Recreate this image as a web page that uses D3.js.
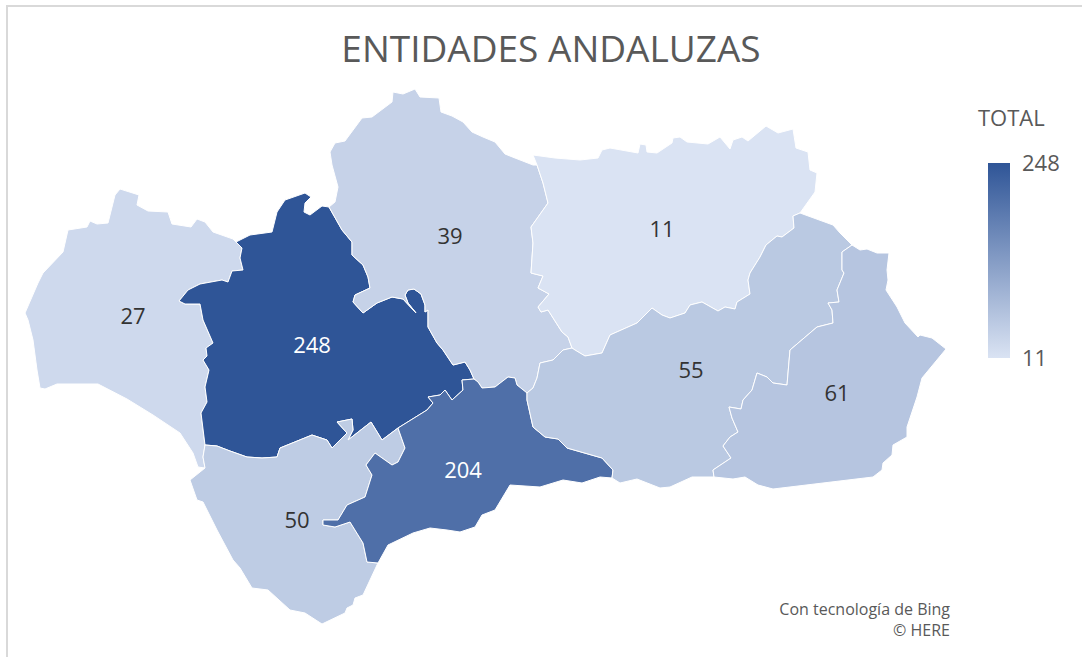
<!DOCTYPE html>
<html>
<head>
<meta charset="utf-8">
<title>Entidades andaluzas</title>
<script src="https://cdn.jsdelivr.net/npm/d3@7"></script>
<style>
  html, body { margin: 0; padding: 0; background: #fff; }
  svg { display: block; font-family: "Open Sans", sans-serif; }
  .province { stroke: #fff; stroke-width: 1; stroke-linejoin: round; }
  .value { font-size: 22px; text-anchor: middle; dominant-baseline: central; }
  .legend-axis text { font-family: "Open Sans", sans-serif; font-size: 22px; fill: #595959; }
</style>
</head>
<body>
<div id="chart"></div>
<script>
// Values
const provinces = ["Huelva", "Sevilla", "Córdoba", "Jaén", "Cádiz", "Málaga", "Granada", "Almería"];
const totals = [27, 248, 39, 11, 50, 204, 55, 61];
const legendTicks = [11, 248];
const lowColor = "#DAE3F3";
const highColor = "#2F5597";

// Where the number of each province sits, in map units, same order as provinces
const labelPoints = [[133, 315], [312, 344], [450, 235], [662, 228], [297, 519], [463, 469], [691, 369], [837, 392]];

// Map outlines, in map units. Shared borders are kept once.
const coastHuelva = [[236, 242], [233, 239], [213, 232], [205, 222], [197, 219], [191, 227], [172, 224], [168, 212], [148, 211], [137, 205], [139, 195], [120, 189], [115, 195], [108, 223], [97, 224], [90, 221], [87, 227], [68, 230], [63, 252], [43, 273], [38, 283], [25, 313], [28, 320], [33, 340], [37, 370], [40, 388], [45, 389], [57, 384], [98, 384], [127, 399], [153, 415], [180, 433], [193, 453], [198, 467], [205, 468]];
const northSevilla = [[329, 207], [322, 206], [310, 215], [304, 212], [305, 203], [311, 197], [305, 193], [285, 200], [277, 212], [272, 232], [250, 235], [236, 242]];
const northCordoba = [[329, 207], [335, 202], [338, 187], [332, 165], [330, 152], [335, 143], [345, 141], [362, 118], [372, 117], [392, 102], [393, 92], [403, 94], [415, 89], [420, 97], [439, 98], [441, 112], [452, 116], [463, 122], [472, 132], [483, 137], [495, 142], [505, 154], [515, 158], [533, 165], [537, 165]];
const northJaen = [[537, 165], [533, 155], [555, 158], [580, 160], [598, 158], [602, 150], [610, 148], [638, 153], [640, 144], [646, 145], [647, 152], [657, 153], [672, 143], [673, 138], [680, 137], [687, 142], [708, 144], [720, 137], [730, 149], [733, 140], [742, 137], [748, 141], [766, 126], [778, 133], [793, 129], [796, 148], [808, 152], [810, 170], [817, 173], [815, 192], [800, 213], [793, 216]];
const northGranada = [[793, 216], [800, 213], [833, 225], [840, 233], [852, 245]];
const coastAlmeria = [[852, 245], [860, 250], [867, 249], [877, 253], [889, 253], [887, 270], [888, 280], [886, 290], [897, 307], [905, 323], [918, 337], [920, 335], [932, 338], [946, 349], [922, 378], [917, 397], [907, 427], [907, 437], [893, 445], [892, 455], [883, 463], [882, 470], [873, 477], [773, 489], [758, 485], [745, 477], [733, 479], [714, 477]];
const coastGranada = [[714, 477], [692, 477], [670, 487], [660, 488], [637, 479], [620, 483], [612, 478]];
const coastMalaga = [[378, 563], [388, 545], [413, 533], [430, 528], [447, 530], [460, 532], [475, 527], [482, 515], [495, 510], [510, 485], [540, 487], [563, 480], [582, 483], [600, 477], [612, 478]];
const coastCadiz = [[378, 563], [377, 565], [363, 595], [355, 598], [353, 605], [347, 608], [345, 613], [322, 624], [305, 613], [290, 610], [268, 590], [252, 588], [240, 568], [233, 560], [217, 530], [203, 502], [197, 500], [190, 480], [205, 468]];

const borderHuelvaSevilla = [[236, 242], [242, 248], [240, 258], [243, 270], [232, 271], [228, 282], [222, 280], [200, 284], [188, 290], [179, 301], [185, 304], [200, 304], [203, 320], [213, 343], [206, 348], [207, 356], [203, 360], [209, 370], [205, 387], [207, 402], [201, 413], [204, 437], [205, 445]];
const borderHuelvaCadiz = [[205, 445], [203, 457], [205, 468]];
const borderSevillaCadiz = [[205, 445], [217, 446], [230, 451], [247, 457], [262, 458], [277, 457], [280, 448], [312, 435], [327, 440], [332, 448], [347, 433], [337, 422], [352, 419], [353, 430], [348, 440], [371, 422], [382, 440], [398, 428]];
const borderSevillaCordoba = [[329, 207], [342, 230], [352, 242], [352, 255], [363, 265], [368, 277], [370, 288], [355, 295], [353, 302], [363, 313], [377, 303], [392, 297], [403, 299], [416, 313], [408, 303], [405, 295], [408, 290], [414, 289], [421, 294], [425, 305], [425, 312], [428, 310], [428, 327], [437, 343], [443, 350], [453, 365], [465, 362], [470, 370], [474, 379]];
const borderMalagaSevilla = [[474, 379], [462, 380], [463, 390], [452, 400], [445, 390], [440, 395], [428, 397], [433, 403], [427, 410], [398, 428]];
const borderCadizMalaga = [[398, 428], [405, 448], [398, 462], [392, 465], [375, 453], [366, 465], [372, 475], [365, 497], [347, 505], [338, 520], [323, 520], [323, 525], [335, 527], [350, 522], [363, 543], [367, 562], [378, 563]];
const borderGranadaMalaga = [[612, 478], [613, 470], [602, 458], [567, 448], [558, 439], [545, 437], [533, 427], [527, 400], [527, 393]];
const borderCordobaMalaga = [[527, 393], [517, 385], [515, 378], [508, 377], [495, 387], [482, 388], [478, 382], [474, 379]];
const borderCordobaJaen = [[537, 165], [543, 183], [548, 203], [531, 227], [533, 243], [531, 273], [543, 276], [538, 288], [549, 294], [538, 307], [541, 312], [548, 310], [562, 332], [568, 337], [572, 348]];
const borderCordobaGranada = [[572, 348], [563, 350], [553, 360], [540, 363], [537, 378], [533, 388], [527, 393]];
const borderJaenGranada = [[793, 216], [794, 228], [782, 237], [777, 236], [766, 245], [760, 257], [750, 273], [748, 280], [750, 294], [737, 302], [735, 309], [725, 307], [718, 311], [702, 302], [690, 305], [685, 313], [670, 318], [662, 315], [652, 308], [637, 323], [610, 335], [602, 353], [585, 356], [575, 350], [572, 348]];
const borderGranadaAlmeria = [[852, 245], [842, 252], [842, 270], [844, 273], [837, 290], [839, 302], [828, 303], [832, 310], [833, 323], [817, 327], [790, 350], [787, 385], [773, 383], [767, 377], [757, 373], [752, 390], [743, 400], [741, 409], [729, 407], [732, 418], [738, 432], [730, 437], [723, 446], [731, 458], [713, 470], [714, 477]];

const rev = (line) => line.slice().reverse();

// Same order as provinces
const outlines = [
  [coastHuelva, rev(borderHuelvaCadiz), rev(borderHuelvaSevilla)],
  [borderHuelvaSevilla, borderSevillaCadiz, rev(borderMalagaSevilla), rev(borderSevillaCordoba), northSevilla],
  [northCordoba, borderCordobaJaen, borderCordobaGranada, borderCordobaMalaga, rev(borderSevillaCordoba)],
  [northJaen, borderJaenGranada, rev(borderCordobaJaen)],
  [borderSevillaCadiz, borderCadizMalaga, coastCadiz, rev(borderHuelvaCadiz)],
  [borderMalagaSevilla, borderCadizMalaga, coastMalaga, borderGranadaMalaga, borderCordobaMalaga],
  [northGranada, borderGranadaAlmeria, coastGranada, borderGranadaMalaga, rev(borderCordobaGranada), rev(borderJaenGranada)],
  [coastAlmeria, rev(borderGranadaAlmeria)]
];

const width = 1082;
const height = 657;

const svg = d3.select("#chart").append("svg").attr("width", width).attr("height", height);

// Chart frame, only the top and left edges show in the screenshot
svg.append("path")
  .attr("d", `M7,${height}V6H${width}`)
  .attr("fill", "none")
  .attr("stroke", "#D9D9D9")
  .attr("stroke-width", 2);

svg.append("text")
  .attr("x", 551)
  .attr("y", 62)
  .attr("text-anchor", "middle")
  .attr("font-size", 37)
  .attr("fill", "#595959")
  .text("ENTIDADES ANDALUZAS");

const color = d3.scaleLinear().domain([11, 248]).range([lowColor, highColor]);

const features = provinces.map((name, i) => {
  const ring = outlines[i].reduce((all, part) => all.concat(part), []);
  ring.push(ring[0]);
  return {
    type: "Feature",
    properties: { name: name, total: totals[i] },
    geometry: { type: "Polygon", coordinates: [ring] }
  };
});

const path = d3.geoPath(d3.geoIdentity());

svg.selectAll(".province")
  .data(features)
  .join("path")
  .attr("class", "province")
  .attr("d", path)
  .attr("fill", (d) => color(d.properties.total));

svg.selectAll(".value")
  .data(features)
  .join("text")
  .attr("class", "value")
  .attr("x", (d, i) => labelPoints[i][0])
  .attr("y", (d, i) => labelPoints[i][1])
  .attr("fill", (d) => (d.properties.total > 100 ? "#fff" : "#333"))
  .text((d) => d.properties.total);

// Legend
svg.append("text")
  .attr("x", 978)
  .attr("y", 126)
  .attr("font-size", 22)
  .attr("fill", "#595959")
  .text("TOTAL");

const legendScale = d3.scaleLinear().domain(d3.extent(legendTicks)).range([358, 163]);

const gradient = svg.append("defs").append("linearGradient")
  .attr("id", "legend-gradient")
  .attr("x1", 0).attr("y1", 1).attr("x2", 0).attr("y2", 0);
gradient.append("stop").attr("offset", "0%").attr("stop-color", color(legendTicks[0]));
gradient.append("stop").attr("offset", "100%").attr("stop-color", color(legendTicks[1]));

svg.append("rect")
  .attr("x", 988)
  .attr("y", legendScale(legendTicks[1]))
  .attr("width", 22)
  .attr("height", legendScale(legendTicks[0]) - legendScale(legendTicks[1]))
  .attr("fill", "url(#legend-gradient)");

const legendAxis = d3.axisRight(legendScale).tickValues(legendTicks).tickSize(0).tickPadding(12);
svg.append("g")
  .attr("class", "legend-axis")
  .attr("transform", "translate(1010,0)")
  .call(legendAxis)
  .call((g) => g.select(".domain").remove());

// Attribution
const credits = svg.append("g")
  .attr("text-anchor", "end")
  .attr("font-size", 16)
  .attr("fill", "#595959");
credits.append("text").attr("x", 950).attr("y", 615).text("Con tecnología de Bing");
credits.append("text").attr("x", 950).attr("y", 636).text("© HERE");
</script>
</body>
</html>
